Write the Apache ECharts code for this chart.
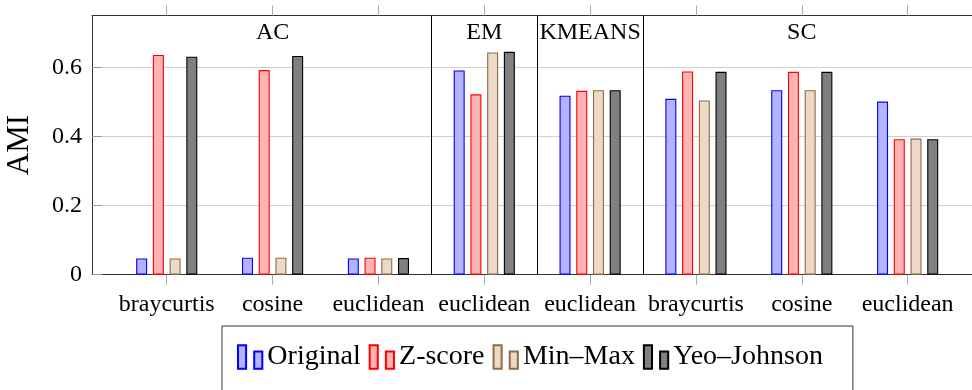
<!DOCTYPE html>
<html><head><meta charset="utf-8">
<script src="https://cdn.jsdelivr.net/npm/echarts@6/dist/echarts.min.js"></script>
<style>html,body{margin:0;padding:0;background:#fff}#c{width:972px;height:390px}</style>
</head><body><div id="c"></div>
<script>
// ---- data ----
const categories = ['braycurtis','cosine','euclidean','euclidean','euclidean','braycurtis','cosine','euclidean'];
const groupNames = ['AC','EM','KMEANS','SC'];
const groupSizes = [3,1,1,3];
const seriesNames = ['Original','Z-score','Min–Max','Yeo–Johnson'];
const original   = [0.047,0.049,0.047,0.591,0.518,0.509,0.534,0.501];
const zscore     = [0.636,0.592,0.049,0.522,0.532,0.588,0.587,0.392];
const minmax     = [0.047,0.049,0.047,0.643,0.534,0.504,0.534,0.394];
const yeojohnson = [0.631,0.633,0.048,0.645,0.534,0.587,0.587,0.392];
const yTickValues = [0,0.2,0.4,0.6];
const groupLabelY = 0.7;

// ---- styles ----
const FONT = "'Liberation Serif','Times New Roman',serif";
const fills   = ['#b3b3ff','#ffb3b3','#ecd9c6','#808080'];
const borders = ['#0000ff','#ff0000','#8f6b47','#000000'];
const valuesList = [original, zscore, minmax, yeojohnson];

const catIdx = categories.map((_, i) => i);
const groupCenters = [], boundaries = [];
let s = 0;
groupSizes.forEach((n, gi) => {
  groupCenters.push(s + (n - 1) / 2);
  if (gi < groupSizes.length - 1) boundaries.push(s + n - 0.5);
  s += n;
});

const xMin = -0.706, xMax = 7.608;

const barSeries = seriesNames.map((name, k) => ({
  name, type: 'bar',
  xAxisIndex: 0, yAxisIndex: 0,
  barWidth: 11, barGap: '52%',
  data: valuesList[k].map((v, i) => [i, v]),
  itemStyle: { color: fills[k], borderColor: borders[k], borderWidth: 1.1 },
  silent: true
}));

const option = {
  animation: false,
  backgroundColor: '#fff',
  grid: { left: 92, right: 0, top: 15.5, bottom: 115.3, containLabel: false, outerBoundsMode: 'none' },
  legend: {
    data: seriesNames,
    left: 222, top: 326,
    orient: 'horizontal',
    padding: [17, 30, 30, 15],
    itemGap: 8,
    itemWidth: 24.4, itemHeight: 23.3,
    icon: 'path://M0,0H8V23H0ZM16,6H24V23H16Z',
    borderColor: '#333', borderWidth: 1,
    textStyle: { fontFamily: FONT, fontSize: 28, color: '#000' },
    selectedMode: false
  },
  xAxis: [{
    type: 'value', position: 'bottom', min: xMin, max: xMax,
    axisLine: { show: true, onZero: false, lineStyle: { color: '#333', width: 1 } },
    axisTick: { show: true, customValues: catIdx, length: 10, inside: false, lineStyle: { color: '#aaa', width: 1 } },
    axisLabel: {
      show: true, customValues: catIdx, margin: 18,
      formatter: v => categories[Math.round(v)] ?? '',
      fontFamily: FONT, fontSize: 24, color: '#000'
    },
    splitLine: { show: false }
  }, {
    type: 'value', position: 'top', min: xMin, max: xMax,
    axisLine: { show: true, onZero: false, lineStyle: { color: '#333', width: 1 } },
    axisTick: { show: true, customValues: catIdx, length: 10, inside: false, lineStyle: { color: '#aaa', width: 1 } },
    axisLabel: { show: false },
    splitLine: { show: false }
  }],
  yAxis: [{
    type: 'value', min: 0, max: 0.75, interval: 0.2, position: 'left',
    name: 'AMI', nameLocation: 'middle', nameGap: 57, nameRotate: 90,
    nameTextStyle: { fontFamily: FONT, fontSize: 31, color: '#000' },
    axisLine: { show: true, onZero: false, lineStyle: { color: '#333', width: 1 } },
    axisTick: { show: true, customValues: yTickValues, inside: true, length: 10, lineStyle: { color: '#999', width: 1 } },
    axisLabel: {
      show: true, customValues: yTickValues, margin: 10,
      formatter: v => String(v),
      fontFamily: FONT, fontSize: 24, color: '#000'
    },
    splitLine: { show: true, lineStyle: { color: '#d0d0d0', width: 1 } }
  }],
  series: [
    ...barSeries,
    {
      name: 'groups', type: 'scatter', xAxisIndex: 0, yAxisIndex: 0,
      symbolSize: 0, silent: true,
      itemStyle: { opacity: 1 },
      data: groupCenters.map(c => [c, groupLabelY]),
      label: {
        show: true, position: 'inside', opacity: 1,
        formatter: p => groupNames[p.dataIndex],
        fontFamily: FONT, fontSize: 24, color: '#000'
      },
      markLine: {
        silent: true, symbol: 'none',
        label: { show: false },
        lineStyle: { color: '#000', width: 1, type: 'solid', opacity: 1 },
        data: boundaries.map(b => ({ xAxis: b }))
      }
    }
  ]
};

const chart = echarts.init(document.getElementById('c'), null, { renderer: 'canvas' });
chart.setOption(option);
</script>
</body></html>
